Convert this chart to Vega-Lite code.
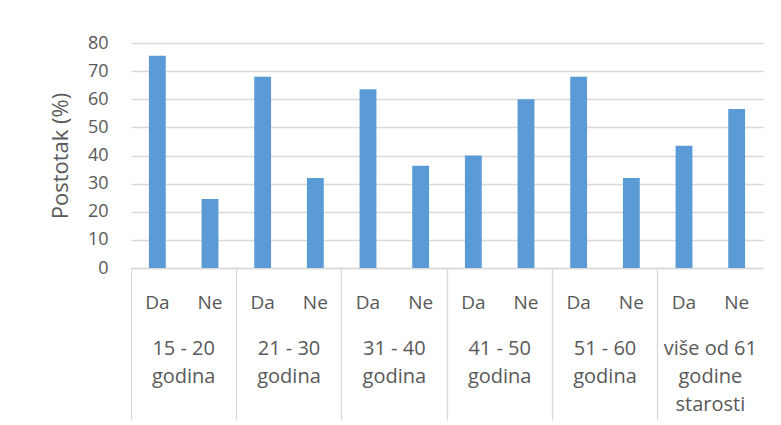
{
  "$schema": "https://vega.github.io/schema/vega-lite/v6.json",
  "width": 632,
  "height": 225,
  "autosize": "none",
  "padding": {"left": 131, "top": 43, "right": 18, "bottom": 157},
  "background": "white",
  "config": {
    "view": {"stroke": null},
    "font": "Open Sans",
    "axis": {"labelFont": "Open Sans", "titleFont": "Open Sans", "labelColor": "#595959", "titleColor": "#595959"}
  },
  "data": {
    "values": [
      {"group": "15 - 20 godina", "answer": "Da", "value": 75.5},
      {"group": "15 - 20 godina", "answer": "Ne", "value": 24.5},
      {"group": "21 - 30 godina", "answer": "Da", "value": 68},
      {"group": "21 - 30 godina", "answer": "Ne", "value": 32},
      {"group": "31 - 40 godina", "answer": "Da", "value": 63.6},
      {"group": "31 - 40 godina", "answer": "Ne", "value": 36.4},
      {"group": "41 - 50 godina", "answer": "Da", "value": 40},
      {"group": "41 - 50 godina", "answer": "Ne", "value": 60},
      {"group": "51 - 60 godina", "answer": "Da", "value": 68},
      {"group": "51 - 60 godina", "answer": "Ne", "value": 32},
      {"group": "više od 61 godine starosti", "answer": "Da", "value": 43.5},
      {"group": "više od 61 godine starosti", "answer": "Ne", "value": 56.5}
    ]
  },
  "encoding": {
    "x": {
      "field": "group", "type": "nominal", "sort": null,
      "scale": {"paddingInner": 0, "paddingOuter": 0},
      "axis": {
        "title": null, "labelAngle": 0, "domainColor": "#D9D9D9", "domainWidth": 1.3,
        "labelExpr": "indexof(datum.value, 'više') == 0 ? ['više od 61', 'godine', 'starosti'] : [replace(datum.value, ' godina', ''), 'godina']",
        "labelFontSize": 20, "labelPadding": -82, "labelLineHeight": 28,
        "bandPosition": 0,
        "tickSize": 152, "tickColor": "#D9D9D9", "tickWidth": 1.3
      }
    },
    "xOffset": {
      "field": "answer", "type": "nominal", "sort": ["Da", "Ne"],
      "scale": {"paddingInner": 0.68, "paddingOuter": 0.34}
    }
  },
  "layer": [
    {
      "mark": {"type": "bar", "color": "#5B9BD5"},
      "encoding": {
        "y": {
          "field": "value", "type": "quantitative",
          "scale": {"domain": [0, 80]},
          "axis": {
            "title": "Postotak (%)", "titleFontSize": 22, "titleFontWeight": "normal", "titlePadding": 15,
            "values": [0, 10, 20, 30, 40, 50, 60, 70, 80], "labelOverlap": false,
            "domain": false, "ticks": false, "labelPadding": 23, "labelFontSize": 18,
            "gridColor": "#D9D9D9", "gridWidth": 1.3
          }
        }
      }
    },
    {
      "mark": {"type": "text", "fontSize": 19, "color": "#595959", "font": "Open Sans", "baseline": "middle"},
      "encoding": {
        "y": {
          "datum": -12.5, "type": "quantitative",
          "axis": {
            "title": "Postotak (%)", "titleFontSize": 22, "titleFontWeight": "normal", "titlePadding": 15,
            "values": [0, 10, 20, 30, 40, 50, 60, 70, 80], "labelOverlap": false,
            "domain": false, "ticks": false, "labelPadding": 23, "labelFontSize": 18,
            "gridColor": "#D9D9D9", "gridWidth": 1.3
          }
        },
        "text": {"field": "answer"}
      }
    }
  ]
}
